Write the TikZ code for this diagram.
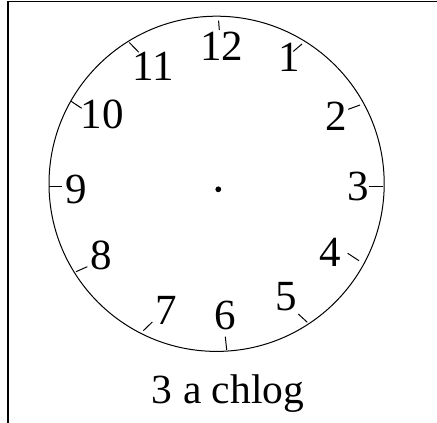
\documentclass[tikz,border=0pt]{standalone}
\usepackage{fontspec}
\setmainfont{Liberation Serif}
\begin{document}
\begin{tikzpicture}[x=1pt,y=-1pt,
  num/.style={inner sep=0pt,font=\fontsize{43}{45}\selectfont},
  captext/.style={inner sep=0pt,anchor=base,font=\fontsize{41.5}{44}\selectfont},
  tickline/.style={line width=1pt},
  frameline/.style={line width=1.2pt}]
\useasboundingbox (0,0) rectangle (437,423);
% frame
\draw[frameline] (8,423) -- (8,1.3) -- (437,1.3);
% dial
\draw[line width=1pt] (216.6,183.8) circle (167.6);
\fill (218.3,189.3) circle (2.9);
% ticks
\draw[tickline] (218.6,20.7) -- (219.3,30);
\draw[tickline] (302,44) -- (293.3,51.4);
\draw[tickline] (360,105) -- (348.3,109.3);
\draw[tickline] (382.7,186.7) -- (369.3,186.7);
\draw[tickline] (359,260.7) -- (347.7,253.3);
\draw[tickline] (307.3,322.3) -- (298.3,314);
\draw[tickline] (226.7,350) -- (225.3,336.7);
\draw[tickline] (143.3,330.7) -- (152.3,322);
\draw[tickline] (76,271.7) -- (87.3,266.7);
\draw[tickline] (49.3,186) -- (61.7,186);
\draw[tickline] (70.7,101) -- (81.7,108.3);
\draw[tickline] (129.3,42.5) -- (138.7,52.2);
% numerals
\node[num] (n12) at (221.5,46) {12};
\node[num] (n1) at (289.5,57.2) {1};
\node[num] (n2) at (336.7,116.3) {2};
\node[num] (n3) at (358.3,186.7) {3};
\node[num] (n4) at (330,252.8) {4};
\node[num] (n5) at (286.7,296.2) {5};
\node[num] (n6) at (225,315) {6};
\node[num] (n7) at (166,310) {7};
\node[num] (n8) at (101.7,255) {8};
\node[num] (n9) at (76.7,189.3) {9};
\node[num] (n10) at (102.2,114.7) {10};
\node[num] (n11) at (153.3,66.7) {11};
% caption
\node[captext] (caption) at (228,403.3) {3 a chlog};
\end{tikzpicture}
\end{document}
